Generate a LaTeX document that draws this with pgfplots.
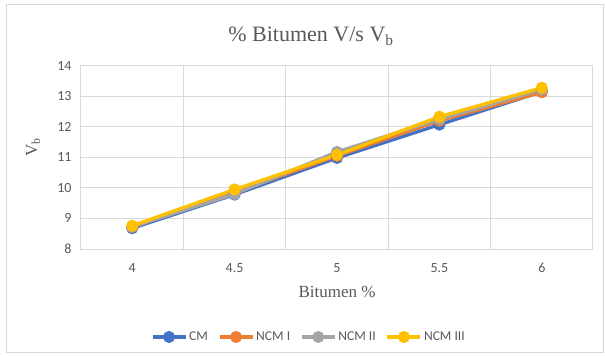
\documentclass[border=0pt]{standalone}
\usepackage{fontspec}
\setmainfont{Liberation Serif}
\newfontfamily\carlito{Carlito}
\usepackage{pgfplots}
\pgfplotsset{compat=1.18}
\definecolor{cmblue}{HTML}{4472C4}
\definecolor{ncmorange}{HTML}{ED7D31}
\definecolor{ncmgray}{HTML}{A5A5A5}
\definecolor{ncmyellow}{HTML}{FFC000}
\definecolor{gridgray}{HTML}{D9D9D9}
\definecolor{labelgray}{HTML}{595959}
\begin{document}
\begin{tikzpicture}
\fill[white] (-81pt,-107pt) rectangle (524pt,249pt);
\draw[gridgray, line width=1pt] (-74pt,-103pt) rectangle (522pt,244pt);
\begin{axis}[
  at={(0,0)}, anchor=south west,
  scale only axis, width=512pt, height=183.3pt,
  xmin=-0.5, xmax=4.5, ymin=8, ymax=14,
  xtick={0,1,2,3,4}, xticklabels={4,4.5,5,5.5,6},
  minor xtick={-0.5,0.5,1.5,2.5,3.5,4.5},
  xminorgrids=true, xmajorgrids=false,
  ytick={8,9,10,11,12,13,14}, ymajorgrids=true,
  major tick length=0pt, minor tick length=0pt,
  axis line style={gridgray, line width=1pt},
  grid style={gridgray, line width=1pt},
  minor grid style={gridgray, line width=1pt},
  tick label style={font=\carlito\fontsize{14}{16}\selectfont, text=labelgray},
  /pgf/number format/assume math mode=true,
  xticklabel style={yshift=-11pt},
  yticklabel style={xshift=-6pt},
  legend style={draw=none, fill=none, at={(axis description cs:0.445,-0.48)}, anchor=center,
    font=\carlito\fontsize{13.5}{15}\selectfont, text=labelgray,
    /tikz/every even column/.append style={column sep=8pt}},
  legend columns=4,
  legend cell align=left,
  legend image code/.code={\draw[#1, mark=none] (0pt,0pt) -- (33pt,0pt); \draw[#1, only marks] plot coordinates {(16.5pt,0pt)};},
  every axis plot/.append style={line width=3.3pt, mark=*, mark size=4.3pt},
]
\addplot[color=cmblue, mark options={fill=cmblue, draw=cmblue}] coordinates {(0,8.68) (1,9.78) (2,10.98) (3,12.07) (4,13.15)};
\addlegendentry{CM}
\addplot[color=ncmorange, mark options={fill=ncmorange, draw=ncmorange}] coordinates {(0,8.72) (1,9.85) (2,11.05) (3,12.2) (4,13.13)};
\addlegendentry{NCM I}
\addplot[color=ncmgray, mark options={fill=ncmgray, draw=ncmgray}] coordinates {(0,8.73) (1,9.80) (2,11.18) (3,12.25) (4,13.22)};
\addlegendentry{NCM II}
\addplot[color=ncmyellow, mark options={fill=ncmyellow, draw=ncmyellow}] coordinates {(0,8.76) (1,9.95) (2,11.08) (3,12.33) (4,13.28)};
\addlegendentry{NCM III}
\end{axis}
\node[text=labelgray, font=\fontsize{22}{24}\selectfont] at (230pt,213pt) {\% Bitumen V/s V\textsubscript{b}};
\node[text=labelgray, font=\fontsize{17}{19}\selectfont] at (256pt,-43pt) {Bitumen \%};
\node[text=labelgray, font=\fontsize{17}{19}\selectfont, rotate=90] at (-48pt,102pt) {V\textsubscript{b}};
\end{tikzpicture}
\end{document}
